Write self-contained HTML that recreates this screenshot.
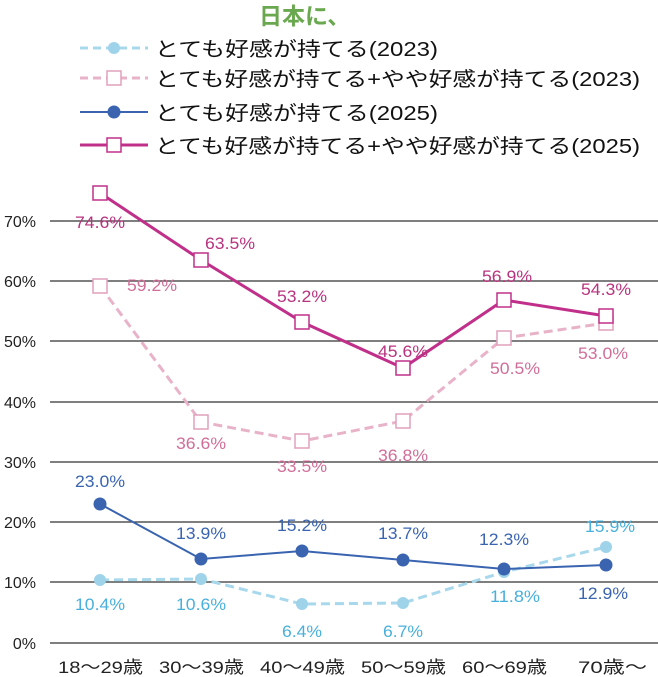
<!DOCTYPE html>
<html><head><meta charset="utf-8"><style>
html,body{margin:0;padding:0;background:#fff;}
svg{display:block;font-family:"Liberation Sans","Noto Sans CJK JP",sans-serif;}
</style></head><body>
<svg width="658" height="677" viewBox="0 0 658 677">
<text x="259" y="24" font-size="23" font-weight="bold" fill="#6aa84f" font-family="Noto Sans CJK JP, sans-serif">日本に、</text>
<!-- legend -->
<g font-size="20" fill="#111">
<line x1="80" y1="48" x2="148" y2="48" stroke="#a8d8ec" stroke-width="3" stroke-dasharray="8,5"/>
<circle cx="114" cy="48" r="6" fill="#9fd3ea"/>
<text x="155" y="56" textLength="283" lengthAdjust="spacingAndGlyphs">とても好感が持てる(2023)</text>
<line x1="80" y1="78" x2="148" y2="78" stroke="#e8b3c8" stroke-width="3" stroke-dasharray="8,5"/>
<rect x="107" y="71" width="14" height="14" fill="#fff" stroke="#e0a0bc" stroke-width="1.5"/>
<text x="155" y="86" textLength="485" lengthAdjust="spacingAndGlyphs">とても好感が持てる+やや好感が持てる(2023)</text>
<line x1="80" y1="112" x2="148" y2="112" stroke="#3a64b0" stroke-width="2"/>
<circle cx="114" cy="112" r="6.5" fill="#3a64b0"/>
<text x="155" y="120" textLength="283" lengthAdjust="spacingAndGlyphs">とても好感が持てる(2025)</text>
<line x1="80" y1="145" x2="148" y2="145" stroke="#c0308a" stroke-width="3"/>
<rect x="107" y="138" width="14" height="14" fill="#fff" stroke="#c0308a" stroke-width="1.5"/>
<text x="155" y="153" textLength="485" lengthAdjust="spacingAndGlyphs">とても好感が持てる+やや好感が持てる(2025)</text>
</g>
<!-- grid -->
<g stroke="#333" stroke-width="1.2">
<line x1="50" y1="221" x2="658" y2="221"/><line x1="50" y1="281" x2="658" y2="281"/>
<line x1="50" y1="341" x2="658" y2="341"/><line x1="50" y1="402" x2="658" y2="402"/>
<line x1="50" y1="462" x2="658" y2="462"/><line x1="50" y1="522" x2="658" y2="522"/>
<line x1="50" y1="582" x2="658" y2="582"/><line x1="50" y1="643" x2="658" y2="643"/>
</g>
<g font-size="16" fill="#222" text-anchor="end">
<text x="36" y="227">70%</text><text x="36" y="287">60%</text><text x="36" y="347">50%</text>
<text x="36" y="408">40%</text><text x="36" y="468">30%</text><text x="36" y="528">20%</text>
<text x="36" y="588">10%</text><text x="36" y="649">0%</text>
</g>
<g font-size="17" fill="#222">
<text x="58" y="673" textLength="85" lengthAdjust="spacingAndGlyphs">18〜29歳</text>
<text x="159" y="673" textLength="85" lengthAdjust="spacingAndGlyphs">30〜39歳</text>
<text x="260" y="673" textLength="85" lengthAdjust="spacingAndGlyphs">40〜49歳</text>
<text x="361" y="673" textLength="85" lengthAdjust="spacingAndGlyphs">50〜59歳</text>
<text x="462" y="673" textLength="85" lengthAdjust="spacingAndGlyphs">60〜69歳</text>
<text x="578" y="673" textLength="69" lengthAdjust="spacingAndGlyphs">70歳〜</text>
</g>
<!-- series -->
<polyline points="100,580 201,579 302,604 403,603 504,572 606,547" fill="none" stroke="#a8d8ec" stroke-width="3" stroke-dasharray="9,5"/>
<g fill="#9fd3ea"><circle cx="100" cy="580" r="6"/><circle cx="201" cy="579" r="6"/><circle cx="302" cy="604" r="6"/><circle cx="403" cy="603" r="6"/><circle cx="504" cy="572" r="6"/><circle cx="606" cy="547" r="6"/></g>
<polyline points="100,286 201,422 302,441 403,421 504,338 606,323" fill="none" stroke="#e8b3c8" stroke-width="3" stroke-dasharray="9,5"/>
<g fill="#fff" stroke="#e0a0bc" stroke-width="1.5"><rect x="93" y="279" width="14" height="14"/><rect x="194" y="415" width="14" height="14"/><rect x="295" y="434" width="14" height="14"/><rect x="396" y="414" width="14" height="14"/><rect x="497" y="331" width="14" height="14"/><rect x="599" y="316" width="14" height="14"/></g>
<polyline points="100,504 201,559 302,551 403,560 504,569 606,565" fill="none" stroke="#3a64b0" stroke-width="2"/>
<g fill="#3a64b0"><circle cx="100" cy="504" r="6.5"/><circle cx="201" cy="559" r="6.5"/><circle cx="302" cy="551" r="6.5"/><circle cx="403" cy="560" r="6.5"/><circle cx="504" cy="569" r="6.5"/><circle cx="606" cy="565" r="6.5"/></g>
<polyline points="100,193 201,260 302,322 403,368 504,300 606,316" fill="none" stroke="#c0308a" stroke-width="3"/>
<g fill="#fff" stroke="#c0308a" stroke-width="1.5"><rect x="93" y="186" width="14" height="14"/><rect x="194" y="253" width="14" height="14"/><rect x="295" y="315" width="14" height="14"/><rect x="396" y="361" width="14" height="14"/><rect x="497" y="293" width="14" height="14"/><rect x="599" y="309" width="14" height="14"/></g>
<!-- labels -->
<g font-size="17" text-anchor="middle">
<g fill="#b8337f"><text x="100" y="228" textLength="50" lengthAdjust="spacingAndGlyphs">74.6%</text><text x="230" y="249" textLength="50" lengthAdjust="spacingAndGlyphs">63.5%</text><text x="302" y="302" textLength="50" lengthAdjust="spacingAndGlyphs">53.2%</text><text x="403" y="357" textLength="50" lengthAdjust="spacingAndGlyphs">45.6%</text><text x="507" y="282" textLength="50" lengthAdjust="spacingAndGlyphs">56.9%</text><text x="606" y="295" textLength="50" lengthAdjust="spacingAndGlyphs">54.3%</text></g>
<g fill="#d06e98"><text x="152" y="291" textLength="50" lengthAdjust="spacingAndGlyphs">59.2%</text><text x="201" y="449" textLength="50" lengthAdjust="spacingAndGlyphs">36.6%</text><text x="302" y="472" textLength="50" lengthAdjust="spacingAndGlyphs">33.5%</text><text x="403" y="461" textLength="50" lengthAdjust="spacingAndGlyphs">36.8%</text><text x="515" y="374" textLength="50" lengthAdjust="spacingAndGlyphs">50.5%</text><text x="603" y="359" textLength="50" lengthAdjust="spacingAndGlyphs">53.0%</text></g>
<g fill="#3a64b0"><text x="100" y="487" textLength="50" lengthAdjust="spacingAndGlyphs">23.0%</text><text x="201" y="539" textLength="50" lengthAdjust="spacingAndGlyphs">13.9%</text><text x="302" y="531" textLength="50" lengthAdjust="spacingAndGlyphs">15.2%</text><text x="403" y="539" textLength="50" lengthAdjust="spacingAndGlyphs">13.7%</text><text x="504" y="545" textLength="50" lengthAdjust="spacingAndGlyphs">12.3%</text><text x="603" y="599" textLength="50" lengthAdjust="spacingAndGlyphs">12.9%</text></g>
<g fill="#49b0dc"><text x="100" y="610" textLength="50" lengthAdjust="spacingAndGlyphs">10.4%</text><text x="201" y="610" textLength="50" lengthAdjust="spacingAndGlyphs">10.6%</text><text x="302" y="637" textLength="40" lengthAdjust="spacingAndGlyphs">6.4%</text><text x="403" y="637" textLength="40" lengthAdjust="spacingAndGlyphs">6.7%</text><text x="515" y="602" textLength="50" lengthAdjust="spacingAndGlyphs">11.8%</text><text x="610" y="532" textLength="50" lengthAdjust="spacingAndGlyphs">15.9%</text></g>
</g>
</svg>
</body></html>
